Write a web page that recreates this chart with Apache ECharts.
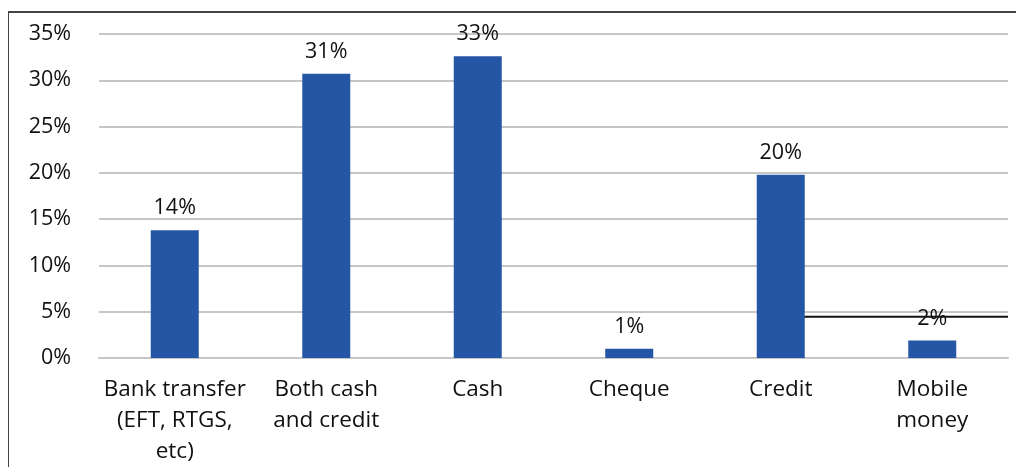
<!DOCTYPE html>
<html><head><meta charset="utf-8">
<script src="https://cdn.jsdelivr.net/npm/echarts@6/dist/echarts.min.js"></script>
<style>
html,body{margin:0;padding:0;background:#fff;}
#wrap{position:relative;width:1016px;height:467px;overflow:hidden;}
#frame{position:absolute;left:8px;top:11px;width:1100px;height:500px;border-left:1px solid #444;border-top:2px solid #444;}
#chart{position:absolute;left:0;top:0;width:1016px;height:467px;}
</style></head>
<body><div id="wrap"><div id="frame"></div><div id="chart"></div></div>
<script>
const categories = ['Bank transfer\n(EFT, RTGS,\netc)', 'Both cash\nand credit', 'Cash', 'Cheque', 'Credit', 'Mobile\nmoney'];
const values = [13.8, 30.7, 32.6, 1.0, 19.8, 1.9];
const yTicks = [0, 5, 10, 15, 20, 25, 30, 35];
const stray = { from: 'Credit', y: 4.45 };

const chart = echarts.init(document.getElementById('chart'));
const font = 'Open Sans, sans-serif';
chart.setOption({
  animation: false,
  grid: { left: 99, right: 8, top: 34, bottom: 109 },
  xAxis: {
    type: 'category', data: categories,
    axisLine: { lineStyle: { color: '#c6c6c6', width: 2 } },
    axisTick: { show: false },
    axisLabel: { fontFamily: font, fontSize: 22.5, color: '#111', lineHeight: 31, margin: 16, interval: 0 }
  },
  yAxis: {
    type: 'value', min: yTicks[0], max: yTicks[yTicks.length - 1], interval: 5,
    axisLine: { show: false }, axisTick: { show: false },
    splitLine: { lineStyle: { color: '#c6c6c6', width: 2 } },
    axisLabel: { fontFamily: font, fontSize: 21.5, color: '#111', margin: 28, formatter: '{value}%' }
  },
  series: [{
    type: 'bar', data: values, barWidth: 48,
    itemStyle: { color: '#2556a5' },
    label: { show: true, position: 'top', distance: 11, fontFamily: font, fontSize: 21.5, color: '#111',
      formatter: p => Math.round(p.value) + '%' }
  }]
});
const p0 = chart.convertToPixel({ xAxisIndex: 0, yAxisIndex: 0 }, [stray.from, stray.y]);
chart.setOption({
  graphic: [{
    type: 'line', z: 1,
    shape: { x1: p0[0], y1: p0[1], x2: 1008, y2: p0[1] },
    style: { stroke: '#111', lineWidth: 2 }
  }]
});
</script></body></html>
